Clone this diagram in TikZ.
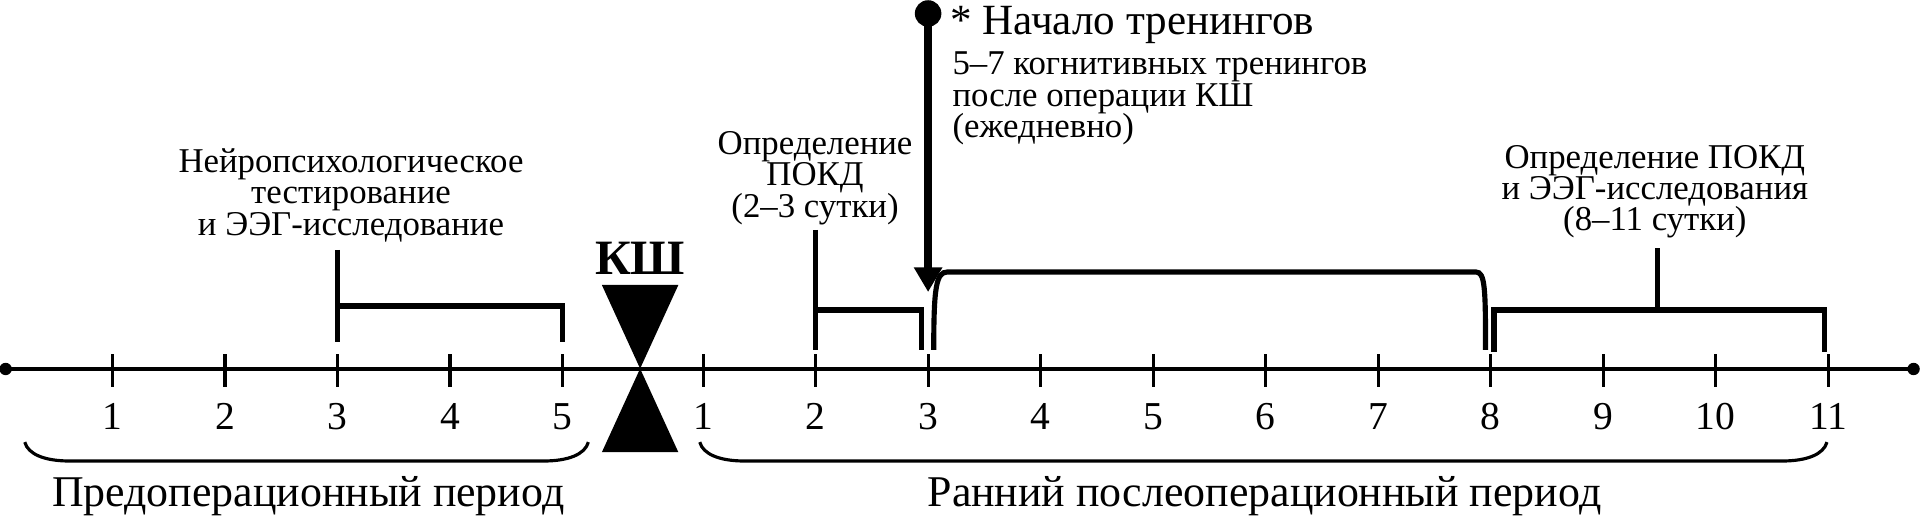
\documentclass[tikz,border=0pt]{standalone}
\usepackage{fontspec}
\setmainfont{Liberation Serif}
\usetikzlibrary{arrows.meta}
\setlength{\lineskiplimit}{-10pt}

\begin{document}
\begin{tikzpicture}[
    lbl/.style={align=center, inner sep=0pt, anchor=base, font=\fontsize{8.8}{7.9}\selectfont},
    num/.style={inner sep=0pt, anchor=base, font=\fontsize{10}{12}\selectfont},
    period/.style={inner sep=0pt, anchor=base, font=\fontsize{11.1}{13}\selectfont},
    brk/.style={line width=1.3pt},
    brace/.style={line width=0.8pt},
    daytick/.style={line width=0.8pt}
]
    \useasboundingbox (0, -1.316) rectangle (17.076, 3.28);

    % axis
    \coordinate (left) at (0.05, 0);
    \coordinate (right) at (17.01, 0);
    \draw[line width=1pt] (left) -- (right);
    \fill (left) circle (0.055);
    \fill (right) circle (0.055);

    \foreach \d in {1, ..., 5}{
        \draw[daytick] (\d, 0.13) -- (\d, -0.16);
        \node[num] (pre\d) at (\d, -0.54) {\d};
    }
    \foreach \d in {1, ..., 11}{
        \draw[daytick] (5.25 + \d, 0.13) -- (5.25 + \d, -0.16);
        \node[num] (post\d) at (5.25 + \d, -0.54) {\d};
    }

    % operation
    \fill (5.35, 0.747) -- (6.03, 0.747) -- (5.35, -0.74) -- (6.03, -0.74) -- cycle;
    \node[inner sep=0pt, anchor=base, font=\bfseries\fontsize{12.5}{14}\selectfont] (ksh) at (5.69, 0.836) {КШ};

    % before the operation
    \node[lbl] (neuro) at (3.12, 1.19) {Нейропсихологическое\\тестирование\\и ЭЭГ-исследование};
    \draw[brk] (3, 1.058) -- (3, 0.24);
    \draw[brk] (3, 0.56) -| (5, 0.24);

    % after the operation
    \node[lbl] (pokd) at (7.245, 1.35) {Определение\\ПОКД\\(2--3 сутки)};
    \draw[brk] (7.25, 1.236) -- (7.25, 0.17);
    \draw[brk] (7.25, 0.524) -| (8.19, 0.17);

    \coordinate (dot) at (8.25, 3.16);
    \coordinate (tip) at (8.25, 0.684);
    \fill (dot) circle (0.118);
    \draw[line width=2pt, -{Triangle[width=0.24cm, length=0.22cm]}] (dot) -- (tip);
    \node[inner sep=0pt, anchor=base west, font=\fontsize{10.9}{12}\selectfont] (start) at (8.44, 2.97) {* Начало тренингов};
    \node[lbl, align=left, anchor=base west] (train) at (8.46, 2.06) {5--7 когнитивных тренингов\\после операции КШ\\(ежедневно)};
    \draw[brk] (8.30, 0.17) .. controls (8.30, 0.72) and (8.32, 0.862) .. (8.42, 0.862)
        -- (13.12, 0.862) .. controls (13.2, 0.862) and (13.205, 0.72) .. (13.205, 0.17);

    \node[lbl] (final) at (14.71, 1.23) {Определение ПОКД\\и ЭЭГ-исследования\\(8--11 сутки)};
    \draw[brk] (13.28, 0.15) |- (16.22, 0.524) -- (16.22, 0.15);
    \draw[brk] (14.73, 0.524) -- (14.73, 1.076);

    % periods
    \draw[brace] (0.22, -0.65) .. controls (0.25, -0.76) and (0.4, -0.818) .. (0.62, -0.818)
        -- (4.83, -0.818) .. controls (5.05, -0.818) and (5.2, -0.76) .. (5.23, -0.65);
    \draw[brace] (6.22, -0.65) .. controls (6.25, -0.76) and (6.4, -0.818) .. (6.62, -0.818)
        -- (15.84, -0.818) .. controls (16.06, -0.818) and (16.21, -0.76) .. (16.24, -0.65);
    \node[period] (before) at (2.74, -1.22) {Предоперационный период};
    \node[period] (after) at (11.24, -1.22) {Ранний послеоперационный период};
\end{tikzpicture}
\end{document}
